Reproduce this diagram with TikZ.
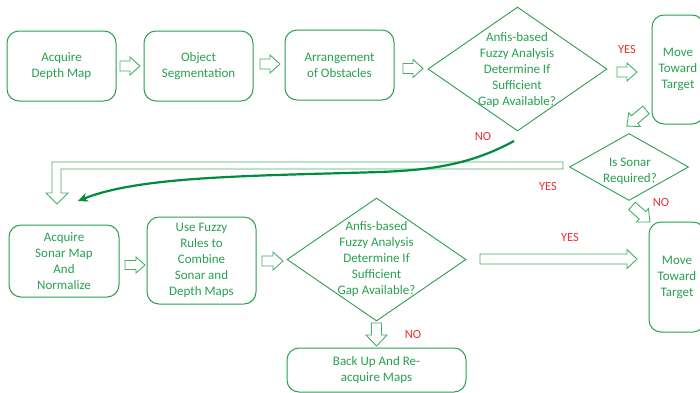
\documentclass[tikz,border=0pt]{standalone}
\usepackage{fontspec}
\setmainfont{Carlito}
\usetikzlibrary{shapes.geometric,arrows.meta}
\definecolor{boxgreen}{RGB}{40,160,80}
\definecolor{textgreen}{RGB}{40,160,80}
\definecolor{hollowgreen}{RGB}{70,175,105}
\definecolor{curvegreen}{RGB}{0,140,60}
\definecolor{labelred}{RGB}{235,50,50}

% hollow block arrow: tail x, tail y, angle, length, shaft half-width, head half-width, head length
\newcommand{\blockarrow}[7]{%
  \begin{scope}[shift={(#1,#2)},rotate=#3]
    \draw[hollow] (0,-#5) -- ({#4-#7},-#5) -- ({#4-#7},-#6) -- (#4,0)
      -- ({#4-#7},#6) -- ({#4-#7},#5) -- (0,#5) -- cycle;
  \end{scope}}

\begin{document}
\begin{tikzpicture}[x=1pt,y=-1pt,
  box/.style={draw=boxgreen, line width=1pt, rounded corners=12pt, align=center,
    text=textgreen, font=\fontsize{13}{16}\selectfont, inner sep=0pt},
  diam/.style={diamond, draw=boxgreen, line width=0.9pt, inner sep=0pt},
  txt/.style={align=center, text=textgreen, font=\fontsize{13}{16}\selectfont, inner sep=0pt},
  lbl/.style={text=labelred, font=\fontsize{12.5}{15}\selectfont, inner sep=0pt},
  hollow/.style={draw=hollowgreen, line width=0.9pt, fill=white, line join=miter},
  curve/.style={draw=curvegreen, line width=2.2pt, -{Stealth[length=10pt,width=9pt]}}]

\useasboundingbox[fill=white] (0,0) rectangle (700,392);

% top row
\node[box, minimum width=109, minimum height=70] (a1) at (61.5,66) {Acquire\\Depth Map};
\node[box, minimum width=109, minimum height=70] (a2) at (198.5,66) {Object\\Segmentation};
\node[box, minimum width=109, minimum height=70] (a3) at (339.5,65) {Arrangement\\of Obstacles};
\node[diam, minimum width=179, minimum height=124] (d1) at (517.5,69) {};
\node[txt] (d1t) at (517,70) {Anfis-based\\Fuzzy Analysis\\Determine If\\Sufficient\\Gap Available?};
\node[box, minimum width=52, minimum height=109] (m1) at (678,69.5) {Move\\Toward\\Target};

% sonar decision
\node[diam, minimum width=119, minimum height=67] (s) at (629,167) {};
\node[txt] (st) at (630,171) {Is Sonar\\Required?};

% bottom row
\node[box, minimum width=110, minimum height=72] (b1) at (64,261) {Acquire\\Sonar Map\\And\\Normalize};
\node[box, minimum width=109, minimum height=87] (b2) at (201.5,260.5) {Use Fuzzy\\Rules to\\Combine\\Sonar and\\Depth Maps};
\node[diam, minimum width=179, minimum height=123] (d2) at (376.5,259.5) {};
\node[txt] (d2t) at (376.5,259) {Anfis-based\\Fuzzy Analysis\\Determine If\\Sufficient\\Gap Available?};
\node[box, minimum width=56, minimum height=110] (m2) at (677,277) {Move\\Toward\\Target};
\node[box, minimum width=179, minimum height=44] (bu) at (376.5,370) {Back Up And Re-\\acquire Maps};

% hollow block arrows
\blockarrow{120}{66}{0}{20}{5}{9}{10}
\blockarrow{260}{64}{0}{20}{5}{9}{10}
\blockarrow{403}{68.5}{0}{20}{5}{9}{10}
\blockarrow{617}{72}{0}{20}{5}{9}{10}
\blockarrow{646}{110}{220}{25}{5}{9}{10}
\blockarrow{632}{206}{-41.6}{24}{5}{9}{10}
\blockarrow{125}{265}{0}{20}{4.5}{8}{9}
\blockarrow{262}{261}{0}{21}{5}{9}{10}
\blockarrow{480}{259}{0}{157}{5}{9.5}{10}
\blockarrow{376.5}{323}{-90}{23}{5}{10.5}{11}

% sonar YES: long return arrow to the bottom row
\draw[hollow] (563,162) -- (52,162) -- (52,193) -- (46,193) -- (57,204)
  -- (68,193) -- (61,193) -- (61,169) -- (563,169) -- cycle;

% NO from the first decision back to the sonar branch
\coordinate (nostart) at (514,141);
\coordinate (nomid) at (380,172);
\coordinate (noend) at (78,201);
\draw[curve] (nostart) .. controls (470,165) and (430,170) .. (nomid)
  .. controls (250,176) and (140,176) .. (noend);

% branch labels
\node[lbl] (yes1) at (627,49) {YES};
\node[lbl] (no1) at (483,136) {NO};
\node[lbl] (yes2) at (548,186) {YES};
\node[lbl] (no2) at (661,202) {NO};
\node[lbl] (yes3) at (570,237) {YES};
\node[lbl] (no3) at (413,334) {NO};
\end{tikzpicture}
\end{document}
